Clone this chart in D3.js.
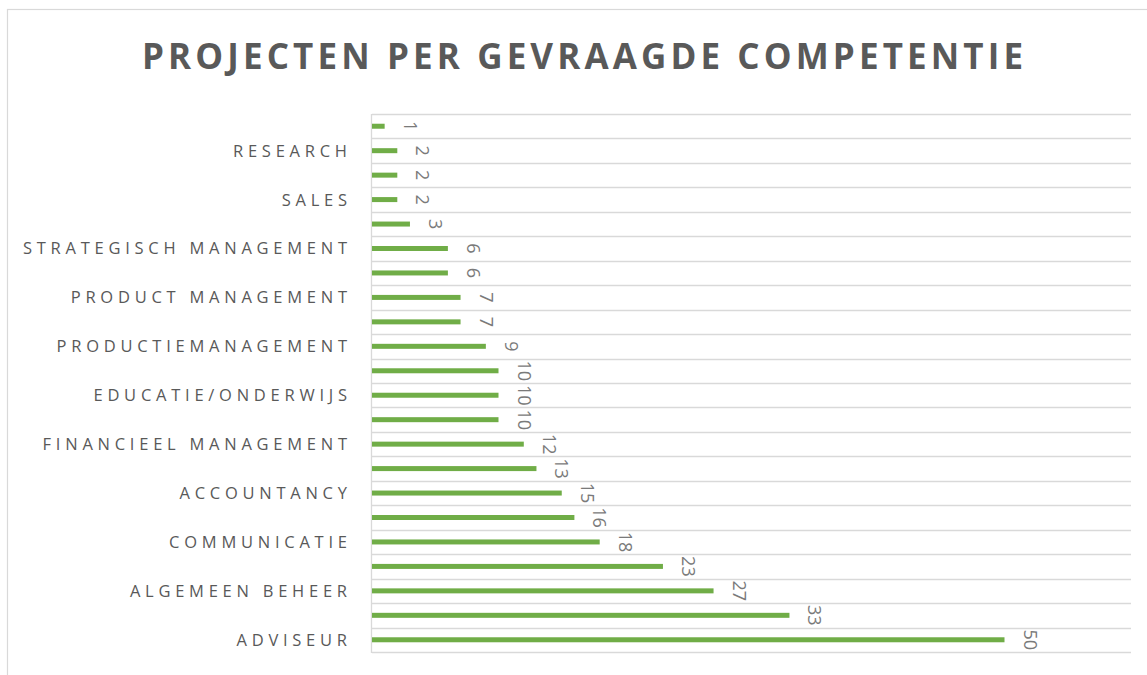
<!DOCTYPE html>
<html>
<head>
<meta charset="utf-8">
<script src="https://cdn.jsdelivr.net/npm/d3@7"></script>
<style>
  html, body { margin: 0; padding: 0; background: #ffffff; overflow: hidden; }
  svg { display: block; }
</style>
</head>
<body>
<svg id="chart" width="1147" height="675"></svg>
<script>
// Data, top to bottom as drawn. Labels that the reference skips are empty strings.
const categories = ["", "RESEARCH", "", "SALES", "", "STRATEGISCH MANAGEMENT", "", "PRODUCT MANAGEMENT", "", "PRODUCTIEMANAGEMENT", "", "EDUCATIE/ONDERWIJS", "", "FINANCIEEL MANAGEMENT", "", "ACCOUNTANCY", "", "COMMUNICATIE", "", "ALGEMEEN BEHEER", "", "ADVISEUR"];
const values = [1, 2, 2, 2, 3, 6, 6, 7, 7, 9, 10, 10, 10, 12, 13, 15, 16, 18, 23, 27, 33, 50];
const xDomain = [0, 60];
const title = "PROJECTEN PER GEVRAAGDE COMPETENTIE";

const svg = d3.select("#chart");
const W = 1147, H = 675;
const margin = { left: 372, right: W - 1131, top: 114, bottom: H - 652 };

const idx = d3.range(values.length);
const x = d3.scaleLinear().domain(xDomain).range([margin.left, W - margin.right]);
const y = d3.scaleBand().domain(idx).range([margin.top, H - margin.bottom]).paddingInner(0).paddingOuter(0);

// chart border (cut at right and bottom as in the reference)
svg.append("rect")
  .attr("x", 7.5).attr("y", 9.5).attr("width", 1300).attr("height", 800)
  .attr("fill", "none").attr("stroke", "#d9d9d9").attr("stroke-width", 1.2);

// title
svg.append("text")
  .attr("x", 142).attr("y", 69)
  .attr("font-family", "'Open Sans', 'DejaVu Sans', sans-serif")
  .attr("font-weight", 700).attr("font-size", 35)
  .attr("fill", "#595959")
  .attr("textLength", 881).attr("lengthAdjust", "spacing")
  .text(title);

// horizontal gridlines at band boundaries
const bounds = idx.map(i => y(i)).concat([y(idx[idx.length - 1]) + y.bandwidth()]);
svg.append("g").selectAll("line").data(bounds).join("line")
  .attr("x1", x(xDomain[0])).attr("x2", x(xDomain[1]))
  .attr("y1", d => Math.round(d) + 0.5).attr("y2", d => Math.round(d) + 0.5)
  .attr("stroke", "#d9d9d9").attr("stroke-width", 1.3);

// vertical axis line
svg.append("line")
  .attr("x1", x(0) - 0.5).attr("x2", x(0) - 0.5)
  .attr("y1", margin.top).attr("y2", H - margin.bottom + 1)
  .attr("stroke", "#d9d9d9").attr("stroke-width", 1.3);

// bars
const barH = 5;
svg.append("g").selectAll("rect").data(values).join("rect")
  .attr("x", x(0))
  .attr("y", (d, i) => y(i) + y.bandwidth() / 2 - barH / 2)
  .attr("width", d => x(d) - x(0))
  .attr("height", barH)
  .attr("fill", "#70AD47");

// value labels, rotated
svg.append("g").selectAll("text").data(values).join("text")
  .attr("transform", (d, i) => `translate(${x(d) + 19},${y(i) + y.bandwidth() / 2}) rotate(90)`)
  .attr("text-anchor", "middle")
  .attr("font-family", "'Open Sans', 'DejaVu Sans', sans-serif")
  .attr("font-size", 18)
  .attr("fill", "#7a7a7a")
  .text(d => d);

// category labels with letter spacing fitted to reference width
const labelG = svg.append("g")
  .attr("font-family", "'Open Sans', 'DejaVu Sans', sans-serif")
  .attr("font-size", 16.5)
  .attr("fill", "#595959");
const probe = labelG.append("text").text("STRATEGISCH MANAGEMENT");
const natural = probe.node().getComputedTextLength();
probe.remove();
const ls = Math.max(0, (324 - natural) / 21);
labelG.selectAll("text").data(categories).join("text")
  .attr("x", 347 + ls)
  .attr("y", (d, i) => y(i) + y.bandwidth() / 2)
  .attr("dy", "0.36em")
  .attr("text-anchor", "end")
  .attr("letter-spacing", ls)
  .text(d => d);
</script>
</body>
</html>
